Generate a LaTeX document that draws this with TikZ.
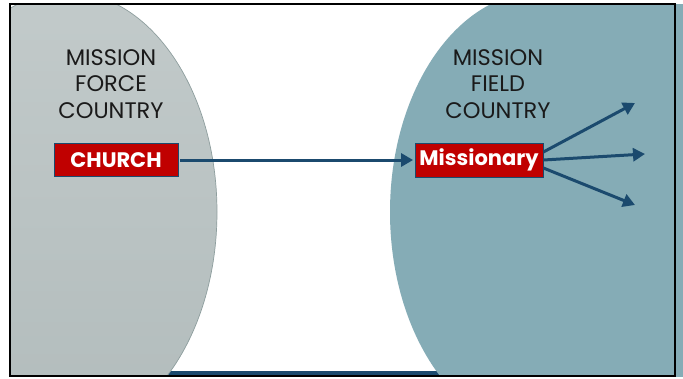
\documentclass[tikz,border=0pt]{standalone}
\usepackage{fontspec}
\setmainfont{Poppins}
\usetikzlibrary{arrows.meta}
\definecolor{grayfill}{HTML}{C2CACA}
\definecolor{graydark}{HTML}{B2BCBC}
\definecolor{grayedge}{HTML}{8E9E9E}
\definecolor{tealfill}{HTML}{85ACB6}
\definecolor{navy}{HTML}{1B4A6E}
\definecolor{boxred}{HTML}{C00000}
\definecolor{txt}{HTML}{1A1A1A}
\tikzset{
  redbox/.style={draw=navy, line width=0.8pt, fill=boxred, text=white,
    font=\fontsize{21}{24}\selectfont\bfseries, inner sep=0pt},
  label/.style={align=center, text=txt, font=\fontsize{22.5}{26.7}\selectfont, inner sep=0pt},
  flow/.style={draw=navy, line width=3pt, -{Triangle[length=12pt,width=13pt]}}
}
\begin{document}
\begin{tikzpicture}[x=1pt,y=-1pt]
\useasboundingbox (0,0) rectangle (683,378);
\fill[white] (0,0) rectangle (683,378);
% bottom navy bar
\fill[navy] (150,370.5) rectangle (460,376);
% gray ellipse
\begin{scope}
\clip (10,4) rectangle (675,376);
\shade[shading angle=20, top color=grayfill, bottom color=graydark] (67,212) ellipse [x radius=150, y radius=220];
\draw[grayedge, line width=0.7pt] (67,212) ellipse [x radius=150, y radius=220];
\end{scope}
% teal region
\begin{scope}
\clip (10,4) rectangle (683,376);
\fill[tealfill] (540,212) ellipse [x radius=150, y radius=220];
\fill[tealfill] (540,0) rectangle (683,378);
\end{scope}
% frame
\draw[black, line width=2.2pt] (10,4) rectangle (675,376);
% labels
\node[label] (lt) at (111,84) {MISSION\\FORCE\\COUNTRY};
\node[label] (rt) at (498,84) {MISSION\\FIELD\\COUNTRY};
% boxes
\node[redbox, minimum width=124pt, minimum height=33pt] (church) at (116,160) {CHURCH};
\node[redbox, minimum width=128pt, minimum height=34pt] (miss) at (479,160) {Missionary};
% arrows
\coordinate (t1) at (635,103);
\coordinate (t2) at (645,154);
\coordinate (t3) at (635,205);
\draw[flow, shorten <=1.5pt, shorten >=1.5pt] (church.east) -- (miss.west);
\draw[flow] ([yshift=8pt]miss.east) -- (t1);
\draw[flow] (miss.east) -- (t2);
\draw[flow] ([yshift=-8pt]miss.east) -- (t3);
\end{tikzpicture}
\end{document}
